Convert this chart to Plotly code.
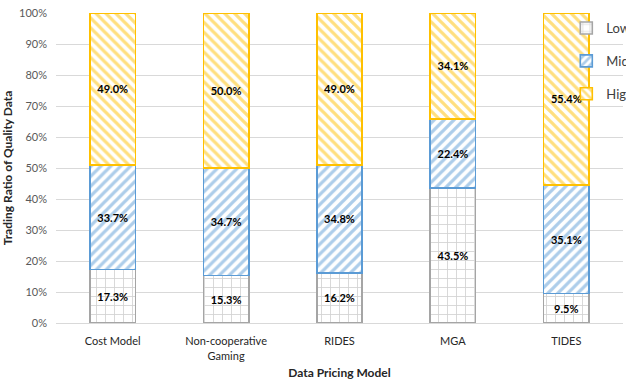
import plotly.graph_objects as go

models = ["Cost Model", "Non-cooperative<br>Gaming", "RIDES", "MGA", "TIDES"]
low = [17.3, 15.3, 16.2, 43.5, 9.5]
mid = [33.7, 34.7, 34.8, 22.4, 35.1]
high = [49.0, 50.0, 49.0, 34.1, 55.4]

series = [
    ("Low", low, "#a5a5a5", "+", 9, 0.18),
    ("Mid", mid, "#5b9bd5", "/", 7, 0.47),
    ("High", high, "#ffc000", "\\", 7, 0.47),
]

fig = go.Figure()
for i, (name, vals, color, shape, size, sol) in enumerate(series):
    fig.add_trace(go.Bar(
        name=name,
        x=models,
        y=vals,
        legendgroup=name,
        marker=dict(
            color="white",
            line=dict(color=color, width=1.6),
            pattern=dict(shape=shape, fgcolor=color, bgcolor="white",
                         size=size, solidity=sol, fillmode="overlay"),
        ),
        text=[f"{v:.1f}%" for v in vals],
        textposition="inside",
        insidetextanchor="middle",
        textangle=0,
        textfont=dict(family="Lato", size=11, color="black", weight="bold"),
        constraintext="none",
        hoverinfo="skip",
    ))

fig.update_layout(
    barmode="stack",
    bargap=0.6,
    width=626,
    height=381,
    margin=dict(l=56, r=3, t=13, b=58, autoexpand=False),
    plot_bgcolor="white",
    paper_bgcolor="white",
    font=dict(family="Lato", size=11, color="#404040"),
    uniformtext=dict(mode=False),
    legend=dict(
        x=0.90, y=1.0, xanchor="left", yanchor="top",
        bgcolor="rgba(0,0,0,0)",
        traceorder="grouped",
        tracegroupgap=13,
        font=dict(family="Lato", size=13, color="#404040"),
        itemwidth=30,
    ),
    xaxis=dict(
        title=dict(text="<b>Data Pricing Model</b>", font=dict(size=12, color="#262626"), standoff=8),
        tickfont=dict(size=11, color="#262626"),
        showline=True, linecolor="#d9d9d9", linewidth=1,
        ticks="",
        ticklabelstandoff=8,
    ),
    yaxis=dict(
        title=dict(text="<b>Trading Ratio of Quality Data</b>", font=dict(size=12, color="#262626"), standoff=6),
        range=[0, 100],
        dtick=10,
        ticksuffix="%",
        tickfont=dict(size=11, color="#595959"),
        gridcolor="#d9d9d9",
        gridwidth=1,
        zeroline=False,
        ticks="",
        ticklabelstandoff=8,
    ),
)

fig.write_html("out.html")
